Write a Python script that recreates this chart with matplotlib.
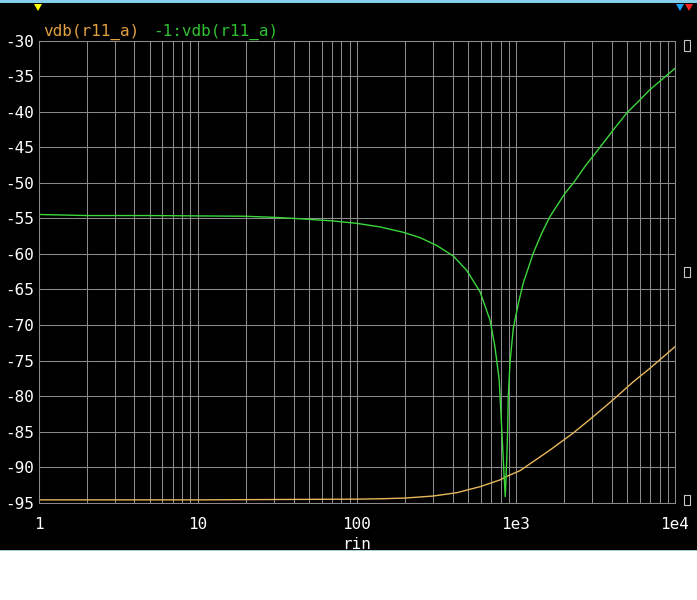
import matplotlib
matplotlib.use("Agg")
import matplotlib.pyplot as plt
from matplotlib.patches import Rectangle, Polygon
from matplotlib.ticker import LogLocator, NullFormatter

# values
rin_green = [1, 2, 5, 10, 20, 30, 44, 70, 100, 140, 196, 249, 317, 404, 490, 594,
             687, 738, 785, 805, 825, 841, 857, 874, 887, 895, 917, 962,
             1035, 1112, 1285, 1452, 1636, 2033, 2291, 2716, 3540, 4090, 4963,
             6015, 6950, 8430, 10000]
vdb_green = [-54.45, -54.6, -54.6, -54.65, -54.7, -54.85, -55.05, -55.35, -55.7,
             -56.2, -56.96, -57.7, -58.8, -60.3, -62.3, -65.3, -69.3, -73.05,
             -77.7, -82.4, -87.1, -90.9, -94.15, -89.45, -84.8, -80.1, -75.4,
             -70.5, -67.0, -64.1, -59.9, -57.1, -54.76, -51.47, -50.06,
             -47.7, -44.4, -42.56, -40.2, -38.34, -36.9, -35.3, -33.9]

rin_orange = [1, 10, 100, 140, 200, 302, 424, 594, 793, 875, 1060, 1636,
              2291, 3060, 4090, 5460, 6950, 10000]
vdb_orange = [-94.6, -94.6, -94.5, -94.45, -94.35, -94.06, -93.6, -92.75, -91.8,
              -91.3, -90.5, -87.6, -85.2, -82.9, -80.5, -78.0, -76.1, -73.05]

xticks = [1, 10, 100, 1000, 10000]
xtick_labels = ["1", "10", "100", "1e3", "1e4"]
yticks = list(range(-95, -29, 5))

plt.rcParams["font.family"] = "DejaVu Sans Mono"
plt.rcParams["axes.unicode_minus"] = False

W, H = 697, 600
fig = plt.figure(figsize=(W / 100, H / 100), dpi=100, facecolor="white")

# black panel with light blue top bar and bottom line
fig.patches.append(Rectangle((0, 50 / H), 1, 550 / H, transform=fig.transFigure,
                             facecolor="black", edgecolor="none", zorder=-10))
fig.patches.append(Rectangle((0, 597 / H), 1, 3 / H, transform=fig.transFigure,
                             facecolor="#87ceeb", edgecolor="none", zorder=-9))
fig.patches.append(Rectangle((0, 49 / H), 1, 1.5 / H, transform=fig.transFigure,
                             facecolor="#9fd3d8", edgecolor="none", zorder=-9))

left, right, top, bottom = 38.7, 675, 40.7, 502.7
ax = fig.add_axes([left / W, 1 - bottom / H, (right - left) / W, (bottom - top) / H])
ax.set_facecolor("black")

ax.plot(rin_orange, vdb_orange, color="#e8b85a", lw=1)
ax.plot(rin_green, vdb_green, color="#3ad83a", lw=1)

ax.set_xscale("log")
ax.set_xlim(1, 1e4)
ax.set_ylim(-95, -30)
ax.set_xticks(xticks)
ax.set_xticklabels(xtick_labels)
ax.xaxis.set_minor_locator(LogLocator(base=10, subs=range(2, 10)))
ax.xaxis.set_minor_formatter(NullFormatter())
ax.set_yticks(yticks)
ax.set_yticklabels([str(v) for v in yticks])

ax.grid(True, which="both", axis="x", color="#8a8a8a", lw=0.75)
ax.grid(True, which="major", axis="y", color="#8a8a8a", lw=0.75)
ax.set_axisbelow(True)
for s in ax.spines.values():
    s.set_color("#8a8a8a")
    s.set_linewidth(0.75)

ax.tick_params(axis="both", which="both", length=0, colors="white", labelsize=11.5)
ax.tick_params(axis="x", pad=10)
ax.tick_params(axis="y", pad=3.4)
ax.set_xlabel("rin", color="white", fontsize=11.5, labelpad=4)

# trace names
fig.text(43 / W, 1 - 36 / H, "vdb(r11_a)", color="#e0a040", fontsize=11.5, va="baseline")
fig.text(153 / W, 1 - 36 / H, "-1:vdb(r11_a)", color="#30c030", fontsize=11.5, va="baseline")

# cursor markers at the top
def tri(xc, color):
    pts = [((xc - 4) / W, 1 - 4 / H), ((xc + 4) / W, 1 - 4 / H), (xc / W, 1 - 11 / H)]
    fig.patches.append(Polygon(pts, closed=True, transform=fig.transFigure,
                               facecolor=color, edgecolor="none"))

tri(38, "#ffff00")
tri(680, "#1ea0ff")
tri(689, "#ff2020")

# small boxes at the right side
for yc in [45.5, 272, 499.5]:
    fig.patches.append(Rectangle((684 / W, 1 - (yc + 5) / H), 6 / W, 10 / H,
                                 transform=fig.transFigure, facecolor="none",
                                 edgecolor="#c8c8c8", lw=0.8))

fig.savefig("out.png", dpi=100, facecolor=fig.get_facecolor())
